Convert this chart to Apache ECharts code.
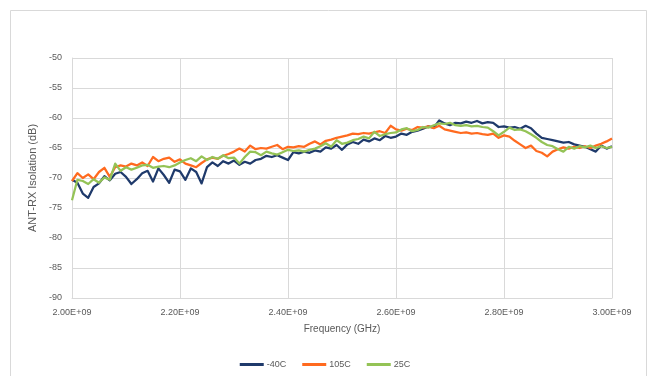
<!DOCTYPE html>
<html>
<head>
<meta charset="utf-8">
<script src="https://cdn.jsdelivr.net/npm/echarts@6/dist/echarts.min.js"></script>
<style>
  html, body { margin: 0; padding: 0; background: #ffffff; }
  #chart { width: 650px; height: 376px; }
</style>
</head>
<body>
<div id="chart"></div>
<script>
// Measurement frequencies, GHz (10 MHz steps)
const freqGHz = [
  2.00, 2.01, 2.02, 2.03, 2.04, 2.05, 2.06, 2.07, 2.08, 2.09,
  2.10, 2.11, 2.12, 2.13, 2.14, 2.15, 2.16, 2.17, 2.18, 2.19,
  2.20, 2.21, 2.22, 2.23, 2.24, 2.25, 2.26, 2.27, 2.28, 2.29,
  2.30, 2.31, 2.32, 2.33, 2.34, 2.35, 2.36, 2.37, 2.38, 2.39,
  2.40, 2.41, 2.42, 2.43, 2.44, 2.45, 2.46, 2.47, 2.48, 2.49,
  2.50, 2.51, 2.52, 2.53, 2.54, 2.55, 2.56, 2.57, 2.58, 2.59,
  2.60, 2.61, 2.62, 2.63, 2.64, 2.65, 2.66, 2.67, 2.68, 2.69,
  2.70, 2.71, 2.72, 2.73, 2.74, 2.75, 2.76, 2.77, 2.78, 2.79,
  2.80, 2.81, 2.82, 2.83, 2.84, 2.85, 2.86, 2.87, 2.88, 2.89,
  2.90, 2.91, 2.92, 2.93, 2.94, 2.95, 2.96, 2.97, 2.98, 2.99,
  3.00
];

// ANT-RX isolation, dB
const isoM40C = [
  -70.3, -70.8, -72.6, -73.3, -71.5, -70.9, -69.7, -70.4, -69.3, -69.0,
  -69.8, -71.0, -70.2, -69.2, -68.8, -70.6, -68.4, -69.5, -70.8, -68.6,
  -68.9, -70.3, -68.4, -69.0, -70.9, -68.2, -67.4, -68.0, -67.2, -67.6,
  -67.1, -67.8, -67.3, -67.6, -67.0, -66.8, -66.3, -66.5, -66.2, -66.6,
  -67.0, -65.7, -65.9, -65.6, -65.8, -65.4, -65.6, -64.9, -65.1, -64.5,
  -65.3, -64.4, -64.0, -64.3, -63.6, -63.9, -63.4, -63.7, -63.0, -63.3,
  -63.1, -62.6, -62.8, -62.3, -62.1, -61.8, -61.4, -61.6, -60.4, -60.9,
  -61.2, -60.8, -60.9, -60.6, -60.8, -60.5, -60.9, -60.7, -60.8, -61.5,
  -61.4, -61.6, -61.5, -61.8, -61.3, -61.7, -62.6, -63.3, -63.5, -63.7,
  -63.9, -64.1, -64.0, -64.4, -64.6, -64.8, -65.2, -65.6, -64.6, -65.1,
  -64.7
];

const iso105C = [
  -70.5, -69.2, -70.0, -69.4, -70.2, -69.0, -68.3, -69.8, -68.2, -67.9,
  -68.1, -67.6, -67.9, -67.4, -68.0, -66.5, -67.2, -66.8, -66.6, -67.3,
  -66.9, -67.6, -67.9, -68.2, -67.5, -66.9, -66.6, -66.8, -66.3, -66.0,
  -65.6, -65.1, -65.6, -64.6, -65.2, -65.0, -65.1, -64.8, -64.5, -65.2,
  -64.8, -64.9, -64.7, -64.8, -64.3, -63.9, -64.4, -63.8, -63.6, -63.3,
  -63.1, -62.9, -62.6, -62.7, -62.5, -62.6, -62.4, -62.2, -62.5, -61.3,
  -61.9, -62.1, -61.8, -62.0, -61.5, -61.6, -61.4, -61.7, -61.3, -61.9,
  -62.1, -62.3, -62.5, -62.4, -62.6, -62.5, -62.7, -62.8, -62.6, -63.3,
  -62.9, -63.1, -63.8, -64.4, -65.0, -64.6, -65.5, -65.8, -66.4, -65.6,
  -65.2, -64.9, -65.1, -64.8, -65.0, -64.7, -65.0, -64.6, -64.3, -63.9,
  -63.4
];

const iso25C = [
  -73.7, -70.3, -70.5, -71.0, -70.2, -70.8, -69.9, -70.3, -67.6, -68.8,
  -68.2, -68.6, -68.3, -67.9, -67.8, -68.3, -68.1, -68.0, -68.2, -67.9,
  -67.4, -67.0, -66.7, -67.2, -66.4, -67.0, -66.5, -66.8, -66.2, -66.7,
  -66.6, -67.6, -66.5, -65.6, -65.7, -66.2, -65.6, -65.9, -66.1, -65.7,
  -65.3, -65.5, -65.4, -65.6, -65.3, -65.1, -64.7, -64.2, -64.8, -63.7,
  -64.3, -64.1, -63.7, -63.5, -63.1, -63.4, -62.3, -63.0, -62.7, -62.5,
  -62.4, -61.9, -61.7, -62.2, -62.0, -61.5, -61.6, -61.2, -60.9, -61.0,
  -60.8, -61.2, -61.3, -61.2, -61.4, -61.3, -61.5, -61.6, -62.2, -62.9,
  -62.3, -61.6, -62.0, -61.9, -62.2, -62.7, -63.3, -64.0, -64.5, -64.7,
  -65.2, -65.6, -64.8, -65.1, -64.7, -64.9, -64.6, -65.0, -64.7, -65.0,
  -64.8
];

const seriesNames = ['-40C', '105C', '25C'];
const seriesColors = ['#1f3a6b', '#ff6a1f', '#94c356'];
const seriesValues = [isoM40C, iso105C, iso25C];

const axisFont = 'Liberation Sans, Arial, sans-serif';
const textColor = '#595959';
const gridColor = '#d9d9d9';

function pairs(values) {
  return values.map((v, i) => [freqGHz[i] * 1e9, v]);
}

// Tick labels in the form 2.00E+09
function sci(v) {
  const e = Math.floor(Math.log10(Math.abs(v)));
  const m = v / Math.pow(10, e);
  return m.toFixed(2) + 'E+' + String(e).padStart(2, '0');
}

const chart = echarts.init(document.getElementById('chart'), null, { renderer: 'canvas' });

chart.setOption({
  backgroundColor: '#ffffff',
  animation: false,
  graphic: [{
    type: 'rect',
    shape: { x: 10.5, y: 10.5, width: 636, height: 380 },
    style: { fill: 'none', stroke: gridColor, lineWidth: 1 },
    silent: true
  }],
  grid: { left: 72, right: 38, top: 58, bottom: 78 },
  legend: {
    bottom: 2,
    left: 'center',
    itemWidth: 24,
    itemHeight: 3,
    itemGap: 16,
    icon: 'rect',
    textStyle: { fontFamily: axisFont, fontSize: 9, color: textColor, padding: [0, 0, 0, -2] },
    data: seriesNames
  },
  xAxis: {
    type: 'value',
    min: 2e9,
    max: 3e9,
    interval: 2e8,
    name: 'Frequency (GHz)',
    nameLocation: 'middle',
    nameGap: 26,
    nameTextStyle: { fontFamily: axisFont, fontSize: 10, color: textColor },
    axisLine: { show: true, lineStyle: { color: gridColor, width: 1 } },
    axisTick: { show: false },
    axisLabel: {
      formatter: sci,
      fontFamily: axisFont, fontSize: 9, color: textColor, margin: 10
    },
    splitLine: { show: true, lineStyle: { color: gridColor, width: 1 } }
  },
  yAxis: {
    type: 'value',
    min: -90,
    max: -50,
    interval: 5,
    name: 'ANT-RX Isolation (dB)',
    nameLocation: 'middle',
    nameGap: 32,
    nameTextStyle: { fontFamily: axisFont, fontSize: 11, color: textColor },
    axisLine: { show: true, lineStyle: { color: gridColor, width: 1 } },
    axisTick: { show: false },
    axisLabel: { fontFamily: axisFont, fontSize: 9, color: textColor, margin: 10 },
    splitLine: { show: true, lineStyle: { color: gridColor, width: 1 } }
  },
  series: seriesNames.map((name, k) => ({
    name: name,
    type: 'line',
    data: pairs(seriesValues[k]),
    showSymbol: false,
    symbol: 'none',
    smooth: false,
    lineStyle: { color: seriesColors[k], width: 2.25, join: 'round' },
    itemStyle: { color: seriesColors[k] },
    z: 2
  }))
});
</script>
</body>
</html>
